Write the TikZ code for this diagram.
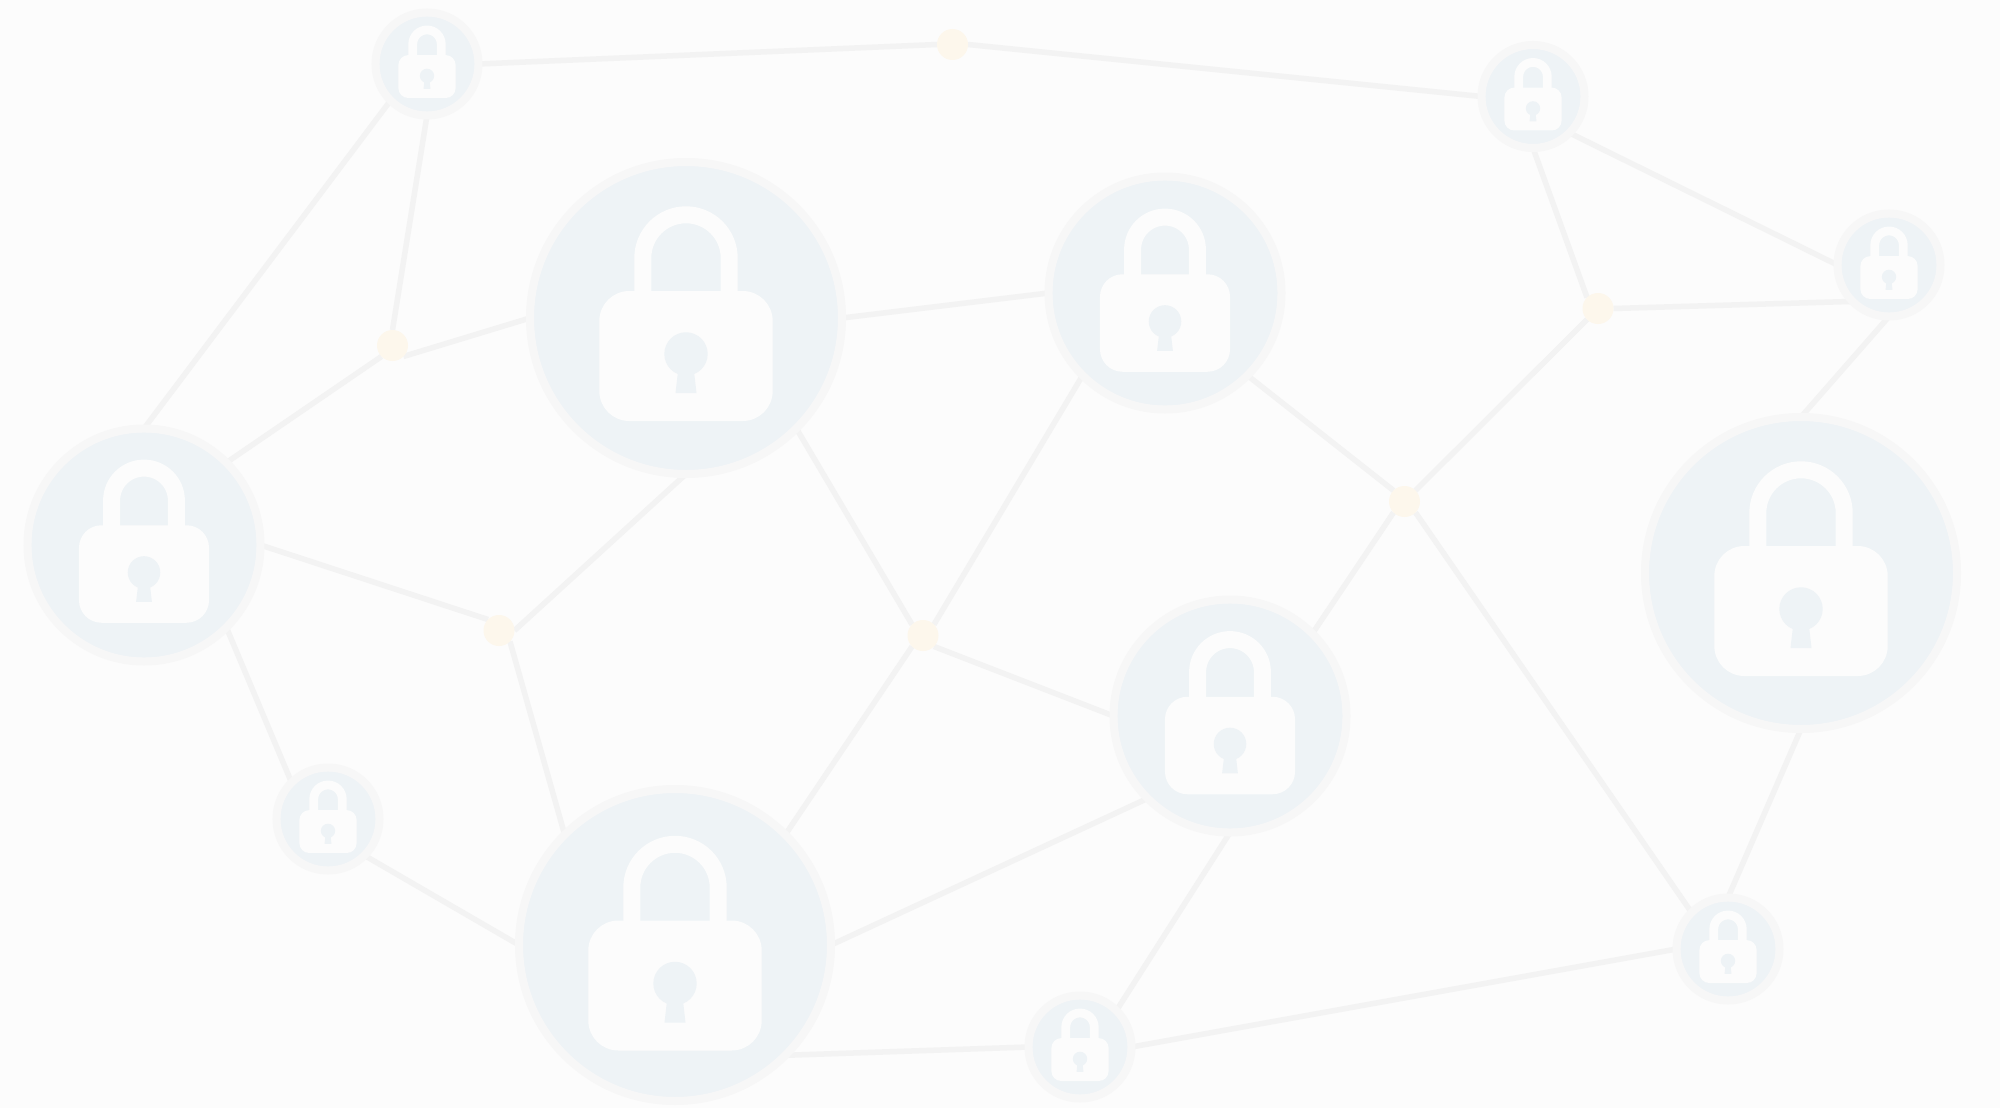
\documentclass[tikz,border=0pt]{standalone}
\usetikzlibrary{backgrounds}
\definecolor{bgc}{HTML}{FCFCFC}
\definecolor{ringc}{HTML}{F7F7F7}
\definecolor{fillc}{HTML}{EEF3F6}
\definecolor{edgec}{HTML}{F3F3F3}
\definecolor{junc}{HTML}{FDF7EC}
\tikzset{
  x=1pt,y=-1pt,
  hub/.style={circle,draw=ringc,line width=8pt,inner sep=0pt,outer sep=0pt},
  big/.style={hub,minimum size=312pt},
  mid/.style={hub,minimum size=233pt},
  tiny/.style={hub,minimum size=103pt},
  junction/.style={circle,fill=junc,draw=none,inner sep=0pt,outer sep=0pt,minimum size=31pt},
  link/.style={draw=edgec,line width=5.5pt}
}
% lock icon: centre, scale (1 = big node), shackle stroke, disc radius, glyph y offset
\newcommand{\lockicon}[5]{%
  \fill[fillc] (#1) circle[radius=#4];
  \begin{scope}[shift={(#1)},yshift=-#5pt,scale=#2]
    \draw[bgc,line width=#3pt] (-43.2,-20) -- (-43.2,-60)
      arc[start angle=180,end angle=360,radius=43.2] -- (43.2,-20);
    \fill[bgc] (-86.7,3) arc[start angle=180,end angle=270,radius=30] -- (56.7,-27)
      arc[start angle=270,end angle=360,radius=30] -- (86.7,73)
      arc[start angle=0,end angle=90,radius=30] -- (-56.7,103)
      arc[start angle=90,end angle=180,radius=30] -- cycle;
    \fill[fillc] (-8.3,56) arc[start angle=112.5,end angle=427.5,radius=21.7] -- (10.5,75) -- (-10.5,75) -- cycle;
  \end{scope}}
\begin{document}
\begin{tikzpicture}
\useasboundingbox (0,0) rectangle (2000,1108);
% lock glyphs
\lockicon{686,318}{1}{17}{152.3}{0}
\lockicon{1801,573}{1}{17}{152.3}{0}
\lockicon{675,945}{1}{17}{152.3}{2.5}
\lockicon{144,545}{0.75}{17}{112.8}{0.5}
\lockicon{1165,293}{0.75}{17}{112.8}{1.5}
\lockicon{1230,716}{0.75}{17}{112.8}{1}
\lockicon{427,64}{0.33}{8.8}{47.8}{0}
\lockicon{1533,96.5}{0.33}{8.8}{47.8}{0}
\lockicon{1889,265}{0.33}{8.8}{47.8}{0}
\lockicon{328,819}{0.33}{8.8}{47.8}{0}
\lockicon{1728,949}{0.33}{8.8}{47.8}{0}
\lockicon{1080,1047}{0.33}{8.8}{47.8}{0}
% hubs
\node[big] (lockA) at (686,318) {};
\node[big] (lockB) at (1801,573) {};
\node[big] (lockC) at (675,945) {};
\node[mid] (lockD) at (144,545) {};
\node[mid] (lockE) at (1165,293) {};
\node[mid] (lockF) at (1230,716) {};
\node[tiny] (lockG) at (427,64) {};
\node[tiny] (lockH) at (1533,96.5) {};
\node[tiny] (lockI) at (1889,265) {};
\node[tiny] (lockJ) at (328,819) {};
\node[tiny] (lockK) at (1728,949) {};
\node[tiny] (lockL) at (1080,1047) {};
% junctions
\node[junction] (j1) at (952.5,44.5) {};
\node[junction] (j2) at (392.5,345.5) {};
\node[junction] (j3) at (1598,308.5) {};
\node[junction] (j4) at (1404.5,501.5) {};
\node[junction] (j5) at (499,630.5) {};
\node[junction] (j6) at (923,635.5) {};
\begin{pgfonlayer}{background}
\fill[bgc] (0,0) rectangle (2000,1108);
\draw[link] (lockG.east) -- (j1.west);
\draw[link] (j1.east) -- (lockH.west);
\draw[link] (lockG.south west) -- (lockD.north);
\draw[link] (lockG.south) -- (j2.north);
\draw[link] (j2.south east) -- (lockA.west);
\draw[link] (j2.south west) -- (lockD.north east);
\draw[link] (lockA.east) -- (lockE.west);
\draw[link] (lockE.south east) -- (j4.north west);
\draw[link] (j4.north east) -- (j3.south west);
\draw[link] (j3.north west) -- (lockH.south);
\draw[link] (j3.east) -- (lockI.south west);
\draw[link] (lockH.south east) -- (lockI.west);
\draw[link] (lockI.south) -- (lockB.north);
\draw[link] (j4.south west) -- (lockF.north east);
\draw[link] (j4.south east) -- (lockK.north west);
\draw[link] (lockB.south) -- (lockK.north);
\draw[link] (lockK.west) -- (lockL.east);
\draw[link] (lockL.north east) -- (lockF.south);
\draw[link] (lockL.west) -- (lockC.south east);
\draw[link] (lockC.east) -- (lockF.south west);
\draw[link] (lockC.north east) -- (j6.south west);
\draw[link] (j6.north west) -- (lockA.south east);
\draw[link] (j6.north east) -- (lockE.south west);
\draw[link] (j6.south east) -- (lockF.west);
\draw[link] (lockA.south) -- (j5.east);
\draw[link] (j5.north west) -- (lockD.east);
\draw[link] (j5.south east) -- (lockC.north west);
\draw[link] (lockD.south east) -- (lockJ.north west);
\draw[link] (lockJ.south east) -- (lockC.west);
\end{pgfonlayer}
\end{tikzpicture}
\end{document}
